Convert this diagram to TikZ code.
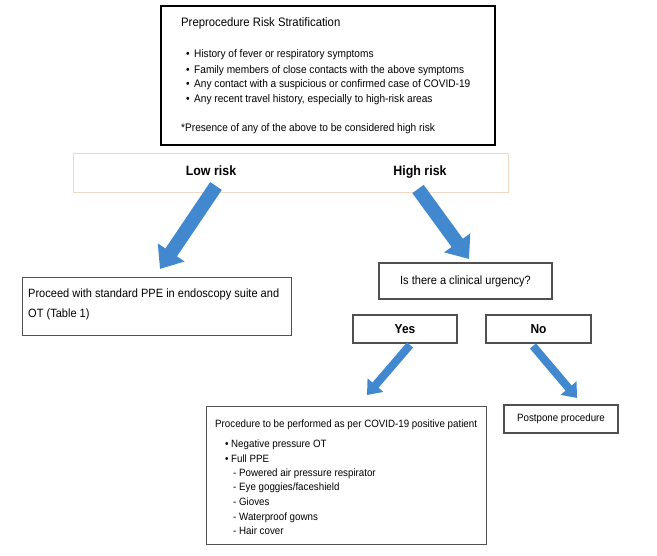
\documentclass[tikz,border=0pt]{standalone}
\usepackage{fontspec}
\setmainfont{Liberation Sans}[FakeStretch=0.92]
\usetikzlibrary{arrows.meta}
\definecolor{arrowblue}{RGB}{66,136,206}
\definecolor{peach}{RGB}{242,214,196}
\definecolor{boxgray}{RGB}{80,80,80}
\newcommand\myfs[1]{\fontsize{#1}{#1}\selectfont}
\begin{document}
\begin{tikzpicture}[x=1pt,y=-1pt,
  box/.style={draw=boxgray, line width=1.1pt, inner sep=0pt, anchor=north west},
  cbox/.style={draw=boxgray, line width=1.1pt, inner sep=0pt},
  txt/.style={inner sep=0pt, anchor=base west},
  ctxt/.style={inner sep=0pt, anchor=base},
  bigarrow/.style={draw=arrowblue, line width=14pt, -{Triangle[length=20pt,width=31pt]}},
  smallarrow/.style={draw=arrowblue, line width=8pt, -{Triangle[length=13pt,width=20pt]}}]
\useasboundingbox (0,0) rectangle (657,556);

% top box
\node[box, draw=black, line width=2pt, minimum width=334pt, minimum height=139pt] (risk) at (160,5) {};
\node[txt] (title) at (181,26.5) {\myfs{12.3}Preprocedure Risk Stratification};
\node[txt] (r1) at (186,58) {\myfs{11}\makebox[8pt][l]{\textbullet}History of fever or respiratory symptoms};
\node[txt] (r2) at (186,73.5) {\myfs{11}\makebox[8pt][l]{\textbullet}Family members of close contacts with the above symptoms};
\node[txt] (r3) at (186,88) {\myfs{11}\makebox[8pt][l]{\textbullet}Any contact with a suspicious or confirmed case of COVID-19};
\node[txt] (r4) at (186,103) {\myfs{11}\makebox[8pt][l]{\textbullet}Any recent travel history, especially to high-risk areas};
\node[txt] (note) at (181,132) {\myfs{11}*Presence of any of the above to be considered high risk};

% band
\node[box, draw=peach, line width=1pt, minimum width=435pt, minimum height=39pt] (band) at (73,153) {};
\node[ctxt] (low) at (211,176) {\myfs{13.5}\bfseries Low risk};
\node[ctxt] (high) at (420,176) {\myfs{13.5}\bfseries High risk};

% proceed box
\node[box, minimum width=269pt, minimum height=58pt] (proceed) at (22,277) {};
\node[txt] (p1) at (28,298) {\myfs{12}Proceed with standard PPE in endoscopy suite and};
\node[txt] (p2) at (28,318) {\myfs{12}OT (Table 1)};

% question
\node[cbox, minimum width=173pt, minimum height=36pt] (urg) at (465.5,281) {\myfs{12}Is there a clinical urgency?};

% yes / no
\node[cbox, minimum width=104pt, minimum height=28pt] (yes) at (405,329) {\myfs{13}\bfseries Yes};
\node[cbox, minimum width=105pt, minimum height=28pt] (no) at (538.5,329) {\myfs{13}\bfseries No};

% procedure box
\node[box, minimum width=280pt, minimum height=138pt] (proc) at (206,406) {};
\node[txt] (q0) at (215,428) {\myfs{10.6}Procedure to be performed as per COVID-19 positive patient};
\node[txt] (q1) at (225,448) {\myfs{10.6}\makebox[6pt][l]{\textbullet}Negative pressure OT};
\node[txt] (q2) at (225,463) {\myfs{10.6}\makebox[6pt][l]{\textbullet}Full PPE};
\node[txt] (q3) at (233,477) {\myfs{10.6}- Powered air pressure respirator};
\node[txt] (q4) at (233,491) {\myfs{10.6}- Eye goggies/faceshield};
\node[txt] (q5) at (233,506) {\myfs{10.6}- Gioves};
\node[txt] (q6) at (233,520) {\myfs{10.6}- Waterproof gowns};
\node[txt] (q7) at (233,534) {\myfs{10.6}- Hair cover};

% postpone
\node[cbox, minimum width=114pt, minimum height=28pt] (post) at (561,419) {\myfs{10.6}Postpone procedure};

% arrows
\coordinate (lowtail) at (216,186);
\coordinate (lowtip) at (160,269);
\coordinate (hightail) at (418,189);
\coordinate (hightip) at (469,259);
\coordinate (yestail) at (410,345);
\coordinate (yestip) at (367,395);
\coordinate (notail) at (533,346);
\coordinate (notip) at (577,398);
\draw[bigarrow] (lowtail) -- (lowtip);
\draw[bigarrow] (hightail) -- (hightip);
\draw[smallarrow] (yestail) -- (yestip);
\draw[smallarrow] (notail) -- (notip);
\end{tikzpicture}
\end{document}
